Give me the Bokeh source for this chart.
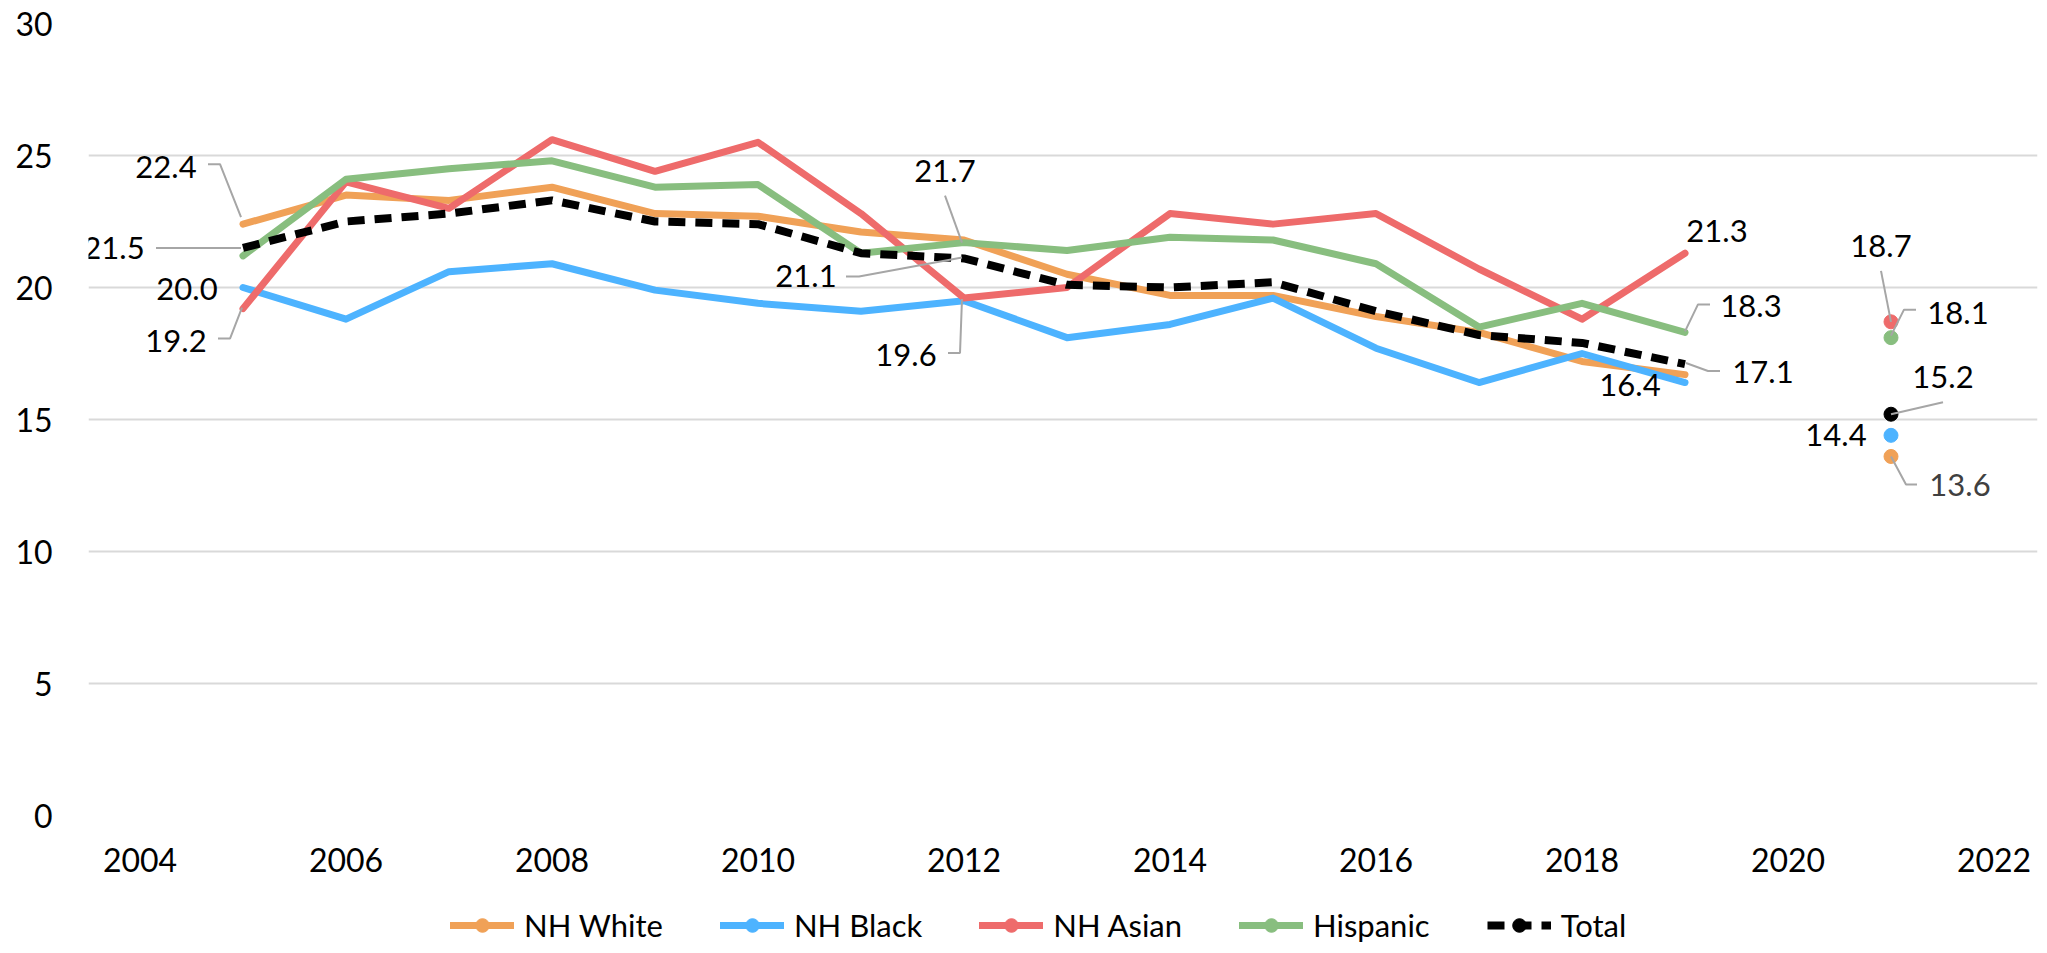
from bokeh.plotting import figure
from bokeh.layouts import column
from bokeh.models import Legend, LegendItem, FixedTicker, ColumnDataSource
from bokeh.embed import file_html
from bokeh.resources import INLINE
from bokeh.core.properties import value

# ---------------- data ----------------
years = [2005, 2006, 2007, 2008, 2009, 2010, 2011, 2012, 2013, 2014, 2015, 2016, 2017, 2018, 2019]
nh_white = [22.4, 23.5, 23.3, 23.8, 22.8, 22.7, 22.1, 21.8, 20.5, 19.7, 19.7, 18.9, 18.3, 17.2, 16.7]
nh_black = [20.0, 18.8, 20.6, 20.9, 19.9, 19.4, 19.1, 19.5, 18.1, 18.6, 19.6, 17.7, 16.4, 17.5, 16.4]
nh_asian = [19.2, 24.0, 23.0, 25.6, 24.4, 25.5, 22.8, 19.6, 20.0, 22.8, 22.4, 22.8, 20.7, 18.8, 21.3]
hispanic = [21.2, 24.1, 24.5, 24.8, 23.8, 23.9, 21.3, 21.7, 21.4, 21.9, 21.8, 20.9, 18.5, 19.4, 18.3]
total = [21.5, 22.5, 22.8, 23.3, 22.5, 22.4, 21.3, 21.1, 20.1, 20.0, 20.2, 19.1, 18.2, 17.9, 17.1]

year_2021 = [2021]
nh_white_2021 = [13.6]
nh_black_2021 = [14.4]
nh_asian_2021 = [18.7]
hispanic_2021 = [18.1]
total_2021 = [15.2]

series_names = ["NH White", "NH Black", "NH Asian", "Hispanic", "Total"]
x_ticks = [2004, 2006, 2008, 2010, 2012, 2014, 2016, 2018, 2020, 2022]
y_ticks = [0, 5, 10, 15, 20, 25, 30]

# ---------------- style ----------------
colors = {"NH White": "#F0A157", "NH Black": "#4DB3FF", "NH Asian": "#EE6B6B",
          "Hispanic": "#88BE7F", "Total": "#000000"}
FONT = "Lato"

W = 2039
H1, H2 = 887, 58
ML, MR, MT = 88, 2, 23
FRAME_BOTTOM = 815
MB = H1 - FRAME_BOTTOM
PXX = 103.0
X0 = 2003.5
X1 = X0 + (W - ML - MR) / PXX
Y0, Y1 = 0, 30
PXY = (FRAME_BOTTOM - MT) / (Y1 - Y0)

p = figure(width=W, height=H1, x_range=(X0, X1), y_range=(Y0, Y1),
           output_backend="svg", toolbar_location=None,
           min_border_left=ML, min_border_right=MR, min_border_top=MT, min_border_bottom=MB)
p.outline_line_color = None
p.background_fill_color = "white"
p.border_fill_color = "white"
p.xgrid.grid_line_color = None
p.ygrid.grid_line_color = "#D9D9D9"
p.ygrid.grid_line_width = 2
p.xaxis.ticker = FixedTicker(ticks=x_ticks)
p.yaxis.ticker = FixedTicker(ticks=y_ticks)
for ax in (p.xaxis, p.yaxis):
    ax.axis_line_color = None
    ax.major_tick_line_color = None
    ax.minor_tick_line_color = None
    ax.major_tick_in = 0
    ax.major_tick_out = 0
    ax.minor_tick_in = 0
    ax.minor_tick_out = 0
    ax.major_label_text_font = FONT
    ax.major_label_text_font_size = "32px"
    ax.major_label_text_color = "#000000"
p.yaxis.major_label_standoff = 36
p.xaxis.major_label_standoff = 32

data = {"NH White": (nh_white, nh_white_2021), "NH Black": (nh_black, nh_black_2021),
        "NH Asian": (nh_asian, nh_asian_2021), "Hispanic": (hispanic, hispanic_2021),
        "Total": (total, total_2021)}

# legend strip (separate figure directly below the chart); its own renderers
# carry the series' data but sit outside that strip's visible range
leg = figure(width=W, height=H2, x_range=(0, 1), y_range=(0, 1), output_backend="svg",
             toolbar_location=None, x_axis_type=None, y_axis_type=None,
             min_border_left=0, min_border_right=0, min_border_top=0, min_border_bottom=0)
leg.outline_line_color = None
leg.grid.visible = False

items = []
for name in series_names:
    vals, v21 = data[name]
    c = colors[name]
    if name == "Total":
        style = dict(line_color=c, line_width=8, line_dash="17 10", line_join="round")
    else:
        style = dict(line_color=c, line_width=7, line_join="round", line_cap="round")
    p.line(years, vals, **style)
    p.scatter(year_2021, v21, marker="circle", size=14, fill_color=c, line_color=c)
    lr = leg.line(years, vals, **style)
    sr = leg.scatter(year_2021, v21, marker="circle", size=14, fill_color=c, line_color=c)
    items.append(LegendItem(label=name, renderers=[lr, sr]))

# ---------------- data labels ----------------
# (series, year, text dx px, text dy px (down +), leader polyline in px offsets, text colour)
label_specs = [
    ("NH White", 2005, -77, -57, [(-35, -60), (-23, -60), (-2, -7)], "#000000"),
    ("Total", 2005, -129, 0, [(-87, 0), (-2, 0)], "#000000"),
    ("NH Black", 2005, -56, 1, None, "#000000"),
    ("NH Asian", 2005, -67, 32, [(-25, 30), (-13, 30), (-1, -1)], "#000000"),
    ("Hispanic", 2012, -19, -72, [(-19, -47), (-2, 0)], "#000000"),
    ("Total", 2012, -158, 18, [(-118, 18), (-105, 18), (-2, -1)], "#000000"),
    ("NH Asian", 2012, -58, 57, [(-16, 55), (-4, 55), (-2, 1)], "#000000"),
    ("NH Asian", 2019, 32, -22, None, "#000000"),
    ("Hispanic", 2019, 66, -26, [(0, -1), (13, -28), (25, -28)], "#000000"),
    ("Total", 2019, 78, 8, [(1, -1), (23, 7), (35, 7)], "#000000"),
    ("NH Black", 2019, -55, 2, None, "#000000"),
    ("NH Asian", 2021, -10, -76, [(-10, -51), (0, 0)], "#000000"),
    ("Hispanic", 2021, 67, -25, [(25, -28), (13, -28), (0, -2)], "#000000"),
    ("Total", 2021, 52, -37, [(52, -12), (0, 0)], "#000000"),
    ("NH Black", 2021, -55, 0, None, "#000000"),
    ("NH White", 2021, 69, 29, [(0, 0), (15, 28), (26, 28)], "#404040"),
]

def lookup(name, yr):
    vals, v21 = data[name]
    if yr == 2021:
        return v21[0]
    return vals[years.index(yr)]

tx, ty, tt, tc = [], [], [], []
lxs, lys = [], []
for name, yr, dx, dy, leader, col in label_specs:
    v = lookup(name, yr)
    tx.append(yr + dx / PXX)
    ty.append(v - dy / PXY)
    tt.append(f"{v:.1f}")
    tc.append(col)
    if leader:
        lxs.append([yr + a / PXX for a, b in leader])
        lys.append([v - b / PXY for a, b in leader])

p.multi_line(lxs, lys, line_color="#A6A6A6", line_width=2)
p.text(x="x", y="y", text="t", source=ColumnDataSource(dict(x=tx, y=ty, t=tt, c=tc)),
       text_color="c", text_font=value(FONT), text_font_size="31px",
       text_align="center", text_baseline="middle")

legend = Legend(items=items, orientation="horizontal", location=(362, 1),
                label_text_font=FONT, label_text_font_size="31px", label_text_color="#000000",
                glyph_width=64, glyph_height=34, label_standoff=10, spacing=57,
                padding=0, margin=0, border_line_color=None, background_fill_alpha=0)
leg.add_layout(legend, "center")

layout = column(p, leg, spacing=0)
open("out.html", "w").write(file_html(layout, INLINE))
